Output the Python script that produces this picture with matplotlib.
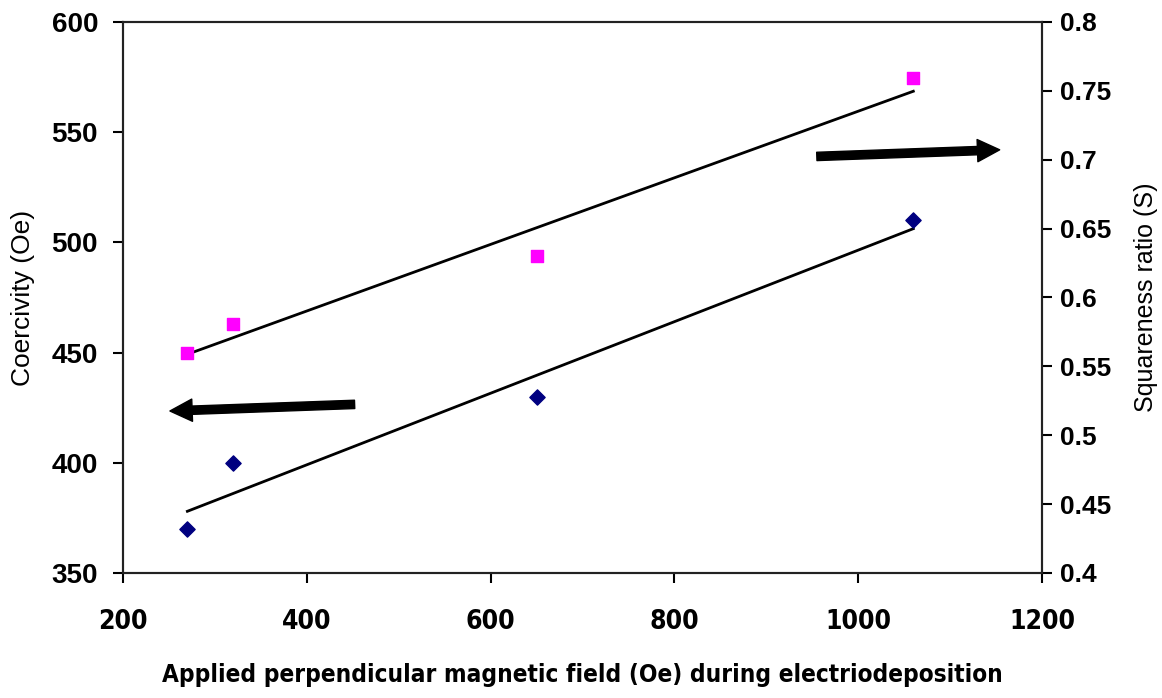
import numpy as np
import matplotlib
matplotlib.use("Agg")
import matplotlib.pyplot as plt

field = [270, 320, 650, 1060]
coercivity = [370, 400, 430, 510]
squareness = [0.56, 0.581, 0.630, 0.759]

x_ticks = [200, 400, 600, 800, 1000, 1200]
y_left_ticks = [350, 400, 450, 500, 550, 600]
y_right_ticks = [0.4, 0.45, 0.5, 0.55, 0.6, 0.65, 0.7, 0.75, 0.8]

fig = plt.figure(figsize=(11.62, 6.98), dpi=100)
ax = fig.add_axes([0.1059, 0.1791, 0.7908, 0.7894])
ax2 = ax.twinx()

ax.set_xlim(200, 1200)
ax.set_ylim(350, 600)
ax2.set_ylim(0.4, 0.8)

# data
ax.scatter(field, coercivity, marker='D', s=60, color='#000080', zorder=3)
ax2.scatter(field, squareness, marker='s', s=70, color='#FF00FF', zorder=3)

# trend lines
xf = np.array([min(field), max(field)])
p1 = np.polyfit(field, coercivity, 1)
ax.plot(xf, np.polyval(p1, xf), color='black', lw=2)
p2 = np.polyfit(field, squareness, 1)
ax2.plot(xf, np.polyval(p2, xf), color='black', lw=2)

# arrows
ax.annotate('', xy=(251, 423.5), xytext=(452, 426.5),
            arrowprops=dict(facecolor='black', edgecolor='black', width=6,
                            headwidth=16, headlength=16, shrink=0))
ax.annotate('', xy=(1154, 542), xytext=(955, 539),
            arrowprops=dict(facecolor='black', edgecolor='black', width=6,
                            headwidth=16, headlength=16, shrink=0))

ax.set_xticks(x_ticks)
ax.set_xticklabels([str(v) for v in x_ticks],
                   family='DejaVu Sans', stretch='condensed', weight='bold', size=19)
ax.set_yticks(y_left_ticks)
ax.set_yticklabels([str(v) for v in y_left_ticks],
                   family=['Liberation Sans', 'DejaVu Sans'], weight='bold', size=20)
ax2.set_yticks(y_right_ticks)
ax2.set_yticklabels([f"{v:g}" for v in y_right_ticks],
                    family=['Liberation Sans', 'DejaVu Sans'], weight='bold', size=19)

for a in (ax, ax2):
    for s in a.spines.values():
        s.set_linewidth(1.5)
        s.set_color('#222222')
ax.tick_params(axis='x', direction='out', length=7, width=1.5, pad=19)
ax.tick_params(axis='y', direction='out', length=7, width=1.5, pad=11)
ax2.tick_params(axis='y', direction='out', length=7, width=1.5, pad=6)

ax.set_xlabel('Applied perpendicular magnetic field (Oe) during electriodeposition',
              family='DejaVu Sans', stretch='condensed', weight='bold', size=17.5, labelpad=20)
ax.set_ylabel('Coercivity (Oe)', family=['Liberation Sans', 'DejaVu Sans'], size=19, labelpad=12)
ax2.set_ylabel('Squareness ratio (S)', family=['Liberation Sans', 'DejaVu Sans'], size=18, labelpad=16)

fig.savefig('out.png', dpi=100)
